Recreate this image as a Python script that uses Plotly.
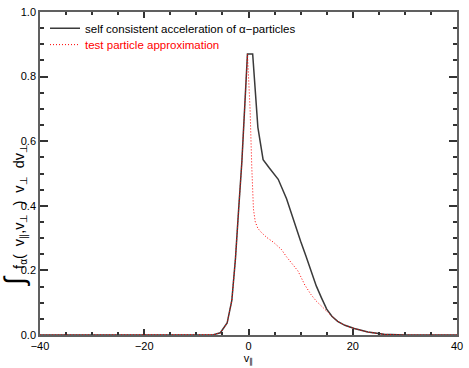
import plotly.graph_objects as go

v_self = [-40, -8, -6.7, -5.4, -4.1, -3.2, -2.5, -1.9, -1.27, -0.2, 0.8, 1.8, 2.8, 4.0,
          5.7, 7.3, 9.2, 10.0, 11.0, 12.0, 13.0, 14.0, 15.0, 16.0, 17.1, 18.5, 20.3, 22.9, 26.0, 30.0, 40]
f_self = [0, 0, 0.001, 0.007, 0.037, 0.107, 0.237, 0.387, 0.537, 0.87, 0.87, 0.643, 0.543, 0.517,
          0.482, 0.422, 0.327, 0.29, 0.245, 0.195, 0.152, 0.115, 0.08, 0.058, 0.042, 0.03, 0.02, 0.009, 0.002, 0, 0]

v_test = [-40, -8, -6.7, -5.4, -4.1, -3.2, -2.5, -1.9, -1.27, -0.2, 0.3, 0.63, 0.95, 1.3, 1.8,
          2.5, 3.5, 4.8, 6.3, 7.3, 8.9, 9.5, 10.8, 12.0, 13.0, 14.0, 15.0, 16.0, 17.1, 18.5, 20.3, 22.9, 26.0, 30.0, 40]
f_test = [0, 0, 0.001, 0.007, 0.037, 0.107, 0.237, 0.387, 0.537, 0.87, 0.70, 0.52, 0.39, 0.35, 0.33,
          0.317, 0.302, 0.287, 0.265, 0.242, 0.212, 0.198, 0.155, 0.125, 0.105, 0.088, 0.074, 0.058, 0.042, 0.03, 0.02, 0.009, 0.002, 0, 0]

name_self = "self consistent acceleration of \u03b1\u2212particles"
name_test = "test particle approximation"

axcol = "#333333"
font = "Liberation Sans, Arial, sans-serif"

fig = go.Figure()
fig.add_trace(go.Scatter(x=v_self, y=f_self, mode="lines", name=name_self, legend="legend",
                         line=dict(color="#3a3a3a", width=1.5)))
fig.add_trace(go.Scatter(x=v_test, y=f_test, mode="lines", name=name_test, legend="legend2",
                         line=dict(color="#ff0000", width=1, dash="1px,2px")))

leg_common = dict(xanchor="left", yanchor="middle", bgcolor="rgba(0,0,0,0)", itemwidth=30,
                  borderwidth=0)

fig.update_layout(
    width=469, height=368,
    margin=dict(l=40, r=9, t=6, b=29),
    paper_bgcolor="white", plot_bgcolor="white",
    font=dict(family=font, size=11, color="black"),
    showlegend=True,
    legend=dict(x=0.012, y=0.95, font=dict(size=11.5, color="black"), **leg_common),
    legend2=dict(x=0.012, y=0.899, font=dict(size=11.5, color="#ff0000"), **leg_common),
    xaxis=dict(range=[-40, 40], tickmode="linear", tick0=-40, dtick=20, ticks="inside",
               ticklen=6, tickwidth=1.5, tickcolor=axcol, showline=True, linecolor="#606060",
               linewidth=1.5, mirror="ticks", showgrid=False, zeroline=False,
               minor=dict(dtick=5, ticks="inside", ticklen=3, tickwidth=1.5, tickcolor=axcol),
               title=dict(text="v<sub>\u2225</sub>", standoff=2, font=dict(size=11))),
    yaxis=dict(range=[0, 1.0], tickmode="linear", tick0=0, dtick=0.2, tickformat=".1f",
               ticks="inside", ticklen=8, tickwidth=1.5, tickcolor=axcol, showline=True,
               linecolor="#606060", linewidth=1.5, mirror="ticks", showgrid=False, zeroline=False,
               minor=dict(dtick=0.05, ticks="inside", ticklen=4, tickwidth=1.5, tickcolor=axcol)),
    annotations=[dict(
        text="<span style='font-size:28px'>\u222b</span>  f<sub>\u03b1</sub>(  v<sub>\u2225</sub>,v<sub>\u22a5</sub>  )  v<sub>\u22a5</sub>  dv<sub>\u22a5</sub>",
        xref="paper", yref="paper", x=-0.062, y=0.37, textangle=-90,
        showarrow=False, xanchor="center", yanchor="middle", font=dict(size=14.5))],
)

fig.write_html("out.html")
